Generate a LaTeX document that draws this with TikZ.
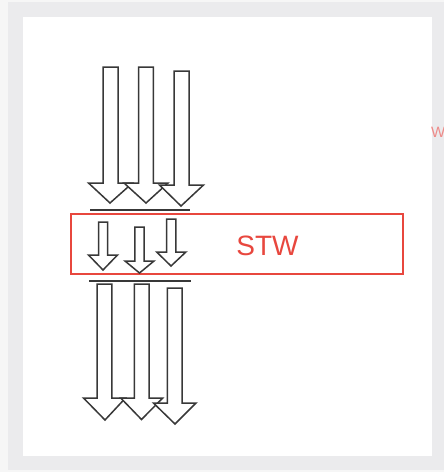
\documentclass[tikz,border=0pt]{standalone}
\usepackage{fontspec}
\setmainfont{Liberation Sans}
\definecolor{outergrey}{HTML}{EBEBED}
\definecolor{edgegrey}{HTML}{F6F6F6}
\definecolor{stwred}{HTML}{E8473E}
\definecolor{linegrey}{HTML}{383838}
\definecolor{pinkred}{HTML}{EE8A88}
\tikzset{
  fatarr/.style={fill=white, draw=linegrey, line width=1.5pt, line join=miter},
  barline/.style={draw=linegrey, line width=2pt},
  redbox/.style={draw=stwred, line width=2pt, rectangle, inner sep=0pt},
}
\newcommand{\fatarrow}[7]{%
  \filldraw[fatarr] ({#1-#2},#3) -- ({#1+#2},#3) -- ({#1+#2},#4) -- ({#1+#5},#4)
    -- (#6,#7) -- ({#1-#5},#4) -- ({#1-#2},#4) -- cycle;}
\begin{document}
\begin{tikzpicture}[x=1pt,y=-1pt]
\useasboundingbox (0,0) rectangle (444,472);
\fill[edgegrey] (0,0) rectangle (444,472);
\fill[outergrey] (8,2) rectangle (444,470);
\fill[white] (23,17) rectangle (432,456);
% partial red W at right edge
\begin{scope}
  \clip (430,100) rectangle (444,160);
  \node[anchor=west, inner sep=0pt, text=pinkred, font=\fontsize{15}{16}\selectfont] (wcut) at (431,132.5) {W};
\end{scope}
% top arrows
\fatarrow{110.5}{7.5}{67}{183}{22}{110}{203}
\fatarrow{146}{7.3}{67}{183}{22}{146}{203}
\fatarrow{181.5}{7.5}{71}{185}{22}{181}{206}
% top bar
\coordinate (t1) at (90,210);
\coordinate (t2) at (190,210);
\draw[barline] (t1) -- (t2);
% red box
\node[redbox, minimum width=332pt, minimum height=60pt] (box) at (237,244) {};
\node[text=stwred, font=\fontsize{28}{30}\selectfont, inner sep=0pt] (stw) at (267.5,246) {STW};
% middle arrows
\fatarrow{103}{4.5}{222}{255}{14.5}{103}{270}
\fatarrow{139.5}{4.6}{227}{261}{14.5}{139.5}{273}
\fatarrow{171.3}{4.6}{219}{252}{14.6}{171}{266}
% bottom bar
\coordinate (b1) at (89,281);
\coordinate (b2) at (191,281);
\draw[barline] (b1) -- (b2);
% bottom arrows
\fatarrow{104.5}{7.3}{284}{398}{21}{105}{420}
\fatarrow{141.7}{7.3}{284}{398}{21}{141.5}{419.5}
\fatarrow{174.7}{7.3}{288}{403}{21.3}{175}{424}
\end{tikzpicture}
\end{document}
